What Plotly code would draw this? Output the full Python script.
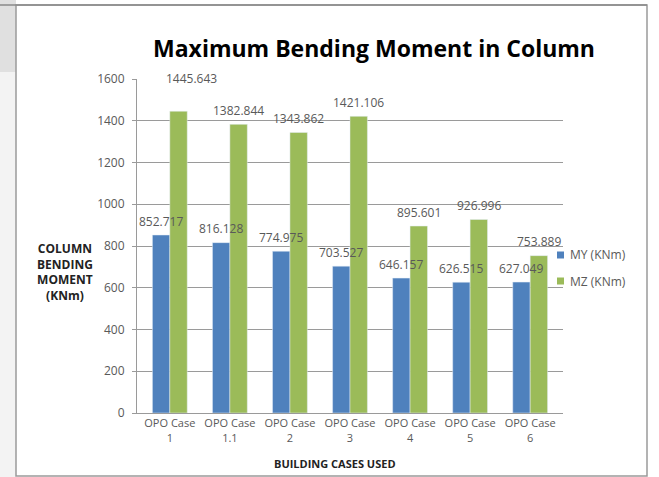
import plotly.graph_objects as go

# Bending moment results per building case
cases = ["OPO Case<br>1", "OPO Case<br>1.1", "OPO Case<br>2", "OPO Case<br>3",
         "OPO Case<br>4", "OPO Case<br>5", "OPO Case<br>6"]
my_vals = [852.717, 816.128, 774.975, 703.527, 646.157, 626.515, 627.049]
mz_vals = [1445.643, 1382.844, 1343.862, 1421.106, 895.601, 926.996, 753.889]
y_ticks = [0, 200, 400, 600, 800, 1000, 1200, 1400, 1600]
series_names = ["MY (KNm)", "MZ (KNm)"]

BLUE = "#4F81BD"
GREEN = "#9BBB59"
TXT = "#595959"
FONT = "Open Sans"

W, H = 659, 477
L, R, T, B = 137, 96, 79, 64
plot_w = W - L - R
plot_h = H - T - B
cat_w = plot_w / len(cases)
bargap = 0.42
bar_w = cat_w * (1 - bargap) / 2


def px(x):
    """Figure pixel column -> paper x (paper spans the plot area)."""
    return (x - L) / plot_w


def py(y):
    """Figure pixel row (from top) -> paper y."""
    return (H - B - y) / plot_h


fig = go.Figure()
fig.add_trace(go.Bar(name=series_names[0], x=cases, y=my_vals, marker_color=BLUE))
fig.add_trace(go.Bar(name=series_names[1], x=cases, y=mz_vals, marker_color=GREEN))

# value labels above each bar (the tallest one sits higher, next to the top gridline)
annotations = []
for i, c in enumerate(cases):
    for vals, side in ((my_vals, -1), (mz_vals, 1)):
        v = vals[i]
        lift, nudge = 14, 0
        if side == 1 and i == 0:
            lift, nudge = 33, 13
        annotations.append(dict(
            x=c, y=v, xref="x", yref="y", text=f"{v:.3f}", showarrow=False,
            xanchor="center", yanchor="middle",
            xshift=side * bar_w / 2 + nudge, yshift=lift,
            font=dict(family=FONT, size=12, color=TXT)))

annotations += [
    dict(text="<b>Maximum Bending Moment in Column</b>", x=px(374), y=py(48),
         xref="paper", yref="paper", showarrow=False,
         xanchor="center", yanchor="middle",
         font=dict(family=FONT, size=23, color="#000000")),
    dict(text="<b>COLUMN<br>BENDING<br>MOMENT<br>(KNm)</b>", x=px(65), y=py(272),
         xref="paper", yref="paper", showarrow=False, align="center",
         xanchor="center", yanchor="middle",
         font=dict(family=FONT, size=12, color="#222222")),
    dict(text="<b>BUILDING CASES USED</b>", x=px(335), y=py(463),
         xref="paper", yref="paper", showarrow=False,
         xanchor="center", yanchor="middle",
         font=dict(family=FONT, size=11, color="#222222")),
]

shapes = [
    # soft grey margin on the left and along the top
    dict(type="rect", xref="paper", yref="paper", x0=px(0), x1=px(16), y0=py(H), y1=py(0),
         fillcolor="#f3f3f3", line_width=0, layer="below"),
    dict(type="rect", xref="paper", yref="paper", x0=px(0), x1=px(16), y0=py(72), y1=py(0),
         fillcolor="#e0e0e0", line_width=0, layer="below"),
    # chart frame
    dict(type="rect", xref="paper", yref="paper",
         x0=px(16), x1=px(647), y0=py(476), y1=py(5),
         fillcolor="rgba(0,0,0,0)", line=dict(color="#9a9a9a", width=1.5)),
    dict(type="line", xref="paper", yref="paper", x0=px(0), x1=px(647),
         y0=py(5), y1=py(5), line=dict(color="#8a8a8a", width=1.5)),
]

# legend: small colour key plus series name, stacked to the right of the plot
for k, (name, col) in enumerate(zip(series_names, (BLUE, GREEN))):
    yc = 255 + 26 * k
    shapes.append(dict(type="rect", xref="paper", yref="paper",
                       x0=px(557), x1=px(564), y0=py(yc + 3.5), y1=py(yc - 3.5),
                       fillcolor=col, line_width=0))
    annotations.append(dict(text=name, x=px(568), y=py(yc), xref="paper", yref="paper",
                            showarrow=False, xanchor="left", yanchor="middle",
                            font=dict(family=FONT, size=12, color=TXT)))

fig.update_layout(
    width=W, height=H, margin=dict(l=L, r=R, t=T, b=B, autoexpand=False),
    paper_bgcolor="white", plot_bgcolor="white",
    barmode="group", bargap=bargap, bargroupgap=0,
    font=dict(family=FONT, size=12, color=TXT),
    showlegend=False,
    annotations=annotations, shapes=shapes,
)
fig.update_yaxes(range=[0, 1600], tickvals=y_ticks, showgrid=True,
                 gridcolor="#9a9a9a", gridwidth=1, showline=True,
                 linecolor="#9a9a9a", ticks="outside", ticklen=4,
                 tickcolor="#9a9a9a", zeroline=False, ticklabelstandoff=5,
                 tickfont=dict(family=FONT, size=12, color=TXT))
fig.update_xaxes(showline=True, linecolor="#9a9a9a", showgrid=False,
                 tickfont=dict(family=FONT, size=11, color=TXT), ticks="")

fig.write_html("out.html")
